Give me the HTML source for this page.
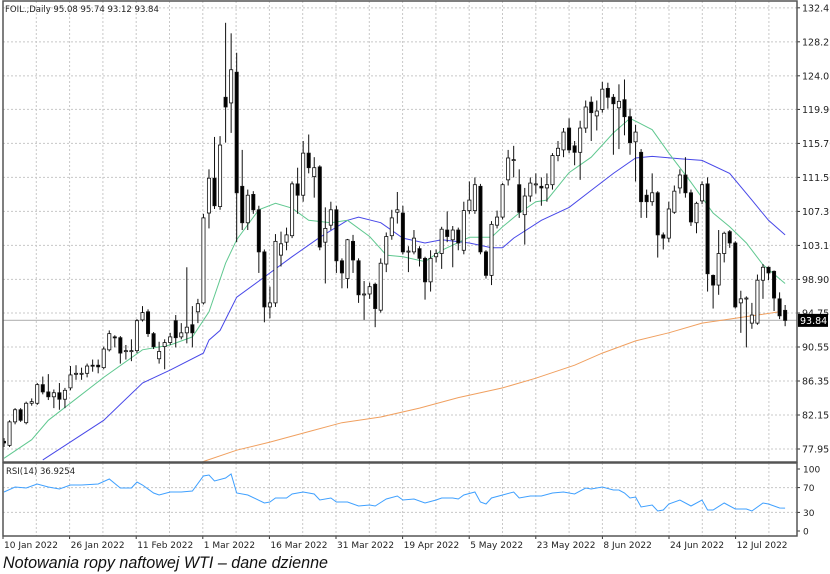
<!DOCTYPE html>
<html><head><meta charset="utf-8"><style>
html,body{margin:0;padding:0;background:#fff;width:830px;height:574px;overflow:hidden}
svg{display:block}
text{font-family:"DejaVu Sans","Liberation Sans",sans-serif}
</style></head><body>
<svg id="chart" width="830" height="574" viewBox="0 0 830 574" xmlns="http://www.w3.org/2000/svg">
<defs><clipPath id="mainClip"><rect x="3" y="1" width="794" height="461"/></clipPath>
<clipPath id="rsiClip"><rect x="3" y="463" width="794" height="73"/></clipPath></defs>
<g id="grid"></g>
<g id="ma" clip-path="url(#mainClip)"></g>
<g id="candles" clip-path="url(#mainClip)"></g>
<g id="rsi" clip-path="url(#rsiClip)"></g>
<g id="axes"></g>
<text x="5" y="12" font-size="8.5" fill="#222">FOIL.,Daily  95.08 95.74 93.12 93.84</text>
<text x="6" y="474" font-size="8.5" fill="#222">RSI(14) 36.9254</text>
<text x="3" y="568" font-size="16.5" font-style="italic" fill="#111" textLength="325" lengthAdjust="spacingAndGlyphs" style="font-family:'Liberation Sans',sans-serif">Notowania ropy naftowej WTI – dane dzienne</text>
</svg>
<script>
const opens=[78.9,78.4,81.3,82.8,81.2,83.6,83.6,85.9,85.0,84.4,84.9,84.1,85.5,87.2,87.2,87.3,88.3,88.3,88.0,90.2,91.8,91.7,90.1,90.1,90.1,93.9,94.9,92.2,89.1,90.6,91.1,93.8,91.8,92.3,93.3,94.9,96.0,107.1,111.4,107.9,121.4,120.7,124.5,110.4,105.9,109.4,107.5,102.3,95.5,96.0,101.9,103.5,104.3,110.7,109.3,114.5,111.6,112.8,103.5,105.6,107.5,101.2,99.0,103.6,101.2,97.1,97.1,98.3,95.1,100.8,104.3,107.2,107.1,102.3,102.3,102.7,101.5,98.6,101.7,102.1,105.0,103.8,105.0,102.5,107.4,107.4,110.4,102.3,99.4,105.6,106.6,111.2,113.7,110.6,106.9,109.2,110.7,110.4,110.2,110.6,114.2,114.9,117.6,115.4,114.6,117.6,120.8,119.1,119.9,122.5,121.4,120.1,121.1,119.0,115.9,114.6,109.3,108.5,109.6,104.4,104.0,107.2,110.2,111.8,109.6,105.9,108.6,110.7,99.4,98.2,102.1,104.8,103.4,96.0,96.5,93.5,93.5,98.8,100.4,99.9,96.5,95.08];
const closes=[78.7,81.3,82.8,81.5,83.6,83.8,85.9,85.0,84.4,84.9,84.1,85.2,87.1,87.3,87.3,88.2,88.2,88.1,90.3,92.2,91.7,89.8,90.1,90.1,93.8,94.8,92.2,90.6,90.0,91.1,91.8,91.7,92.3,93.0,92.3,95.9,106.5,111.4,108.0,115.5,120.2,124.8,109.6,105.9,109.3,107.5,102.3,95.5,96.0,103.6,103.3,104.4,110.7,109.3,114.5,112.7,112.7,102.9,105.2,107.5,101.2,99.7,103.8,101.3,97.0,97.1,98.0,95.3,100.9,104.2,106.5,107.5,102.3,102.4,104.0,101.5,98.6,101.5,102.1,105.1,104.2,105.0,103.4,107.4,108.7,110.6,102.3,99.4,105.7,106.6,110.6,113.9,113.7,107.2,109.2,110.8,110.7,110.2,110.6,114.2,115.1,117.1,114.9,114.6,117.6,120.2,119.5,119.7,122.4,121.4,120.6,120.9,119.0,115.8,117.1,108.5,108.5,109.6,104.4,104.0,107.6,109.8,111.8,109.6,106.0,108.3,110.6,99.6,98.2,102.1,104.6,103.4,95.5,96.5,96.6,94.5,98.8,100.4,99.7,96.6,94.4,93.84];
const highs=[79.3,81.5,83.0,83.0,83.8,84.2,86.1,86.9,87.2,85.3,86.1,85.5,88.2,88.3,88.0,88.5,89.0,89.0,90.6,92.6,92.0,91.9,90.8,91.5,94.0,95.6,95.2,92.4,91.2,91.5,92.3,94.5,93.5,100.4,95.6,96.5,107.0,112.5,116.5,116.6,130.6,129.3,126.9,114.9,110.0,109.8,108.0,102.6,98.0,104.5,104.8,105.3,111.0,112.7,116.0,116.8,114.0,113.0,107.8,108.5,108.0,101.5,103.9,104.4,101.5,98.7,98.5,98.5,101.5,104.7,107.5,109.7,108.0,103.0,105.0,103.0,101.7,102.5,102.6,105.4,107.3,105.5,105.3,108.5,111.0,111.5,110.7,102.5,106.1,107.4,110.8,114.9,115.4,112.5,110.2,111.5,112.0,111.5,112.0,114.5,116.0,117.6,118.8,116.0,118.5,121.0,121.5,121.0,123.3,123.2,121.8,123.0,123.6,120.0,118.0,115.0,110.0,112.0,109.8,104.7,108.5,110.5,112.5,114.0,110.0,108.5,111.0,111.5,99.5,105.0,104.8,105.0,103.6,97.5,96.8,96.0,99.5,100.8,100.5,100.0,97.3,95.74];
const lows=[78.2,78.2,81.0,81.3,81.0,83.3,83.4,84.7,84.0,83.0,82.8,83.0,85.2,86.5,86.5,86.8,87.5,87.3,87.8,90.0,90.5,88.5,89.0,88.8,89.8,93.7,91.8,90.3,88.5,87.8,90.8,90.5,91.5,91.0,90.5,93.5,95.8,105.2,107.6,107.5,115.8,117.0,103.5,105.0,105.0,107.0,99.7,93.6,94.1,95.5,100.5,102.5,104.0,107.0,108.5,112.0,109.0,102.5,98.4,105.0,99.7,97.8,97.8,99.7,96.0,93.9,96.5,93.0,94.8,99.8,103.8,105.8,102.0,99.8,102.0,100.5,96.4,97.4,101.0,100.2,103.5,100.4,102.5,102.0,107.0,107.0,102.0,99.0,98.2,105.2,106.3,110.5,111.5,106.5,103.2,108.5,109.5,108.0,108.5,110.0,113.5,114.0,114.5,113.0,111.2,117.0,116.0,117.3,119.5,120.0,114.3,115.0,116.7,114.3,111.0,106.5,106.5,108.0,101.6,102.6,103.5,107.0,109.5,109.0,105.5,104.6,108.2,97.4,95.3,97.0,101.0,102.8,95.3,92.3,90.5,92.8,93.3,96.5,98.8,95.0,94.0,93.12];
const ma20Days=[0,5,8,18,25,30,34,37,40,42,46,49,52,55,59,62,66,69,72,76,79,84,88,90,93,96,98,102,106,110,113,117,120,124,128,131,134,137,141];
const ma20Values=[76.8,79.1,81.5,86.8,90.2,90.8,91.8,94.9,100.9,103.8,107.5,108.3,107.7,106.2,105.9,106.2,104.2,101.9,101.7,101.1,102.5,104.1,104.1,105.4,107.1,108.5,108.7,112.1,114.0,117.0,118.8,117.4,114.5,110.9,107.1,105.4,103.4,100.7,98.4];
const ma50Days=[7,18,25,30,36,37,39,42,47,52,57,62,64,68,72,76,79,84,88,90,92,97,102,106,110,114,117,122,126,131,135,138,141];
const ma50Values=[76.6,81.5,86.1,87.7,89.8,91.4,92.6,96.7,99.2,101.7,104.1,106.2,106.6,105.9,104.0,103.4,103.8,103.4,102.8,102.8,104.0,106.2,107.8,109.9,112.0,113.9,114.1,113.8,113.6,112.0,108.7,106.2,104.4];
const ma200Days=[36,42,48,55,61,68,75,82,90,96,103,108,114,120,126,132,136,140];
const ma200Values=[76.4,77.8,78.8,80.1,81.2,81.9,83.0,84.3,85.5,86.7,88.3,89.8,91.3,92.3,93.5,94.1,94.5,94.9];
const rsiDays=[0,2,4,6,8,10,12,14,17,19,21,23,24,25,27,28,30,32,34,36,37,38,40,41,42,44,47,48,49,51,52,54,56,57,59,60,62,64,66,67,69,71,72,74,76,78,79,81,82,83,85,86,87,88,90,92,93,95,97,99,101,103,105,106,108,110,111,112,113,114,115,117,118,119,120,122,124,126,127,128,130,132,134,135,137,138,140,141];
const rsiValues=[62.9,71,69.4,75.8,71,67.7,74.2,74.2,75.8,83.9,69.4,69.4,79,74.2,61.3,58,62.9,62.9,64.5,88.7,90.3,80.6,85.5,91.9,61.3,58,45.2,46.8,53.2,53.2,59.7,62.9,59.7,50,53.2,46.8,46.8,40.3,41.9,40.3,51.6,56.5,50,51.6,45.2,50,53.2,53.2,51.6,58,62.9,46.8,43.5,53.2,58,62.9,53.2,56.5,56.5,61.3,62.9,59.7,69.4,67.7,71,66.1,66.1,61.3,53.2,54.8,38.7,41.9,32.3,33.9,43.5,50,40.3,50,33.9,33.9,45.2,35.5,35.5,32.3,45.2,43.5,37.1,36.9];
const priceTicks=["132.45","128.25","124.05","119.90","115.70","111.50","107.30","103.10","98.90","94.75","90.55","86.35","82.15","77.95"];
const rsiTicks=[100,70,30,0];
const dateLabels=["10 Jan 2022","26 Jan 2022","11 Feb 2022","1 Mar 2022","16 Mar 2022","31 Mar 2022","19 Apr 2022","5 May 2022","23 May 2022","8 Jun 2022","24 Jun 2022","12 Jul 2022"];
const lastPrice=93.84;

const NS="http://www.w3.org/2000/svg";
const X0=4, STEP=5.54, LEFT=3, RIGHT=797, MTOP=1, MBOT=462, RTOP=463, RBOT=536;
const xScale=i=>X0+i*STEP;
const yScale=p=>449-(p-77.95)*8.095;
const rsiY=v=>531-v*0.62;
function mk(tag,attrs,parent){const e=document.createElementNS(NS,tag);for(const k in attrs)e.setAttribute(k,attrs[k]);parent.appendChild(e);return e;}
const grid=document.getElementById('grid'),axes=document.getElementById('axes');
// vertical grid
for(let k=1;k*33.3+LEFT<RIGHT;k++){const x=LEFT+k*33.3;
 let l=mk('line',{x1:x,x2:x,y1:MTOP,y2:MBOT,stroke:'#c8c8c8','stroke-dasharray':'2,2'},grid);
 
 
 let l2=mk('line',{x1:x,x2:x,y1:RTOP,y2:RBOT,stroke:'#c8c8c8','stroke-dasharray':'2,2'},grid);
 
 }
// price ticks
priceTicks.forEach(t=>{const y=yScale(parseFloat(t));
 let g=mk('line',{x1:LEFT,x2:RIGHT,y1:y,y2:y,stroke:'#c8c8c8','stroke-dasharray':'2,2'},grid);
 
 
 mk('line',{x1:RIGHT,x2:RIGHT+3,y1:y,y2:y,stroke:'#333'},axes);
 let tx=mk('text',{x:802,y:y+3.5,'font-size':'9.5',fill:'#222'},axes);tx.textContent=t;
 
 });
// rsi ticks
rsiTicks.forEach(v=>{const y=rsiY(v);
 if(v===70||v===30){let g=mk('line',{x1:LEFT,x2:RIGHT,y1:y,y2:y,stroke:'#c8c8c8','stroke-dasharray':'2,2'},grid);
 
 }
 mk('line',{x1:RIGHT,x2:RIGHT+3,y1:y,y2:y,stroke:'#333'},axes);
 let tx=mk('text',{x:803,y:y+3.5,'font-size':'9',fill:'#222'},axes);tx.textContent=v;
 
 });
// date labels
dateLabels.forEach((d,k)=>{const x=LEFT+k*66.6;
 mk('line',{x1:x,x2:x,y1:RBOT,y2:RBOT+3,stroke:'#333'},axes);
 let tx=mk('text',{x:x+1,y:548,'font-size':'9',fill:'#222'},axes);tx.textContent=d;
 
 });
// last price line
const ly=yScale(lastPrice);
let pl=mk('line',{x1:LEFT,x2:RIGHT,y1:ly,y2:ly,stroke:'#bdbdbd','stroke-width':1.2},grid);


// MAs
const maG=document.getElementById('ma');
function line(days,vals,color,name){const pts=days.map((d,i)=>xScale(d).toFixed(1)+','+yScale(vals[i]).toFixed(1)).join(' ');
 let p=mk('polyline',{points:pts,fill:'none',stroke:color,'stroke-width':1},maG);
 
 }
line(ma200Days,ma200Values,'#f0a060','ma200-line');
line(ma50Days,ma50Values,'#4848e8','ma50-line');
line(ma20Days,ma20Values,'#60c890','ma20-line');
// candles
const cg=document.getElementById('candles');
closes.forEach((c,i)=>{const o=opens[i],x=xScale(i);
 let w=mk('line',{x1:x,x2:x,y1:yScale(highs[i]),y2:yScale(lows[i]),stroke:'#111','stroke-width':1},cg);
 
 
 const top=yScale(Math.max(o,c)),bot=yScale(Math.min(o,c));
 let b=mk('rect',{x:x-1.6,y:top,width:3.2,height:Math.max(1,bot-top),fill:c<o?'#000':'#fff',stroke:'#111','stroke-width':0.8},cg);
 
 });
// RSI
const rg=document.getElementById('rsi');
let rp=mk('polyline',{points:rsiDays.map((d,i)=>xScale(d).toFixed(1)+','+rsiY(rsiValues[i]).toFixed(1)).join(' '),fill:'none',stroke:'#3fa0ff','stroke-width':1},rg);


// frames
let f1=mk('rect',{x:LEFT,y:MTOP,width:RIGHT-LEFT,height:MBOT-MTOP,fill:'none',stroke:'#555','stroke-width':1.5},axes);


let f2=mk('rect',{x:LEFT,y:RTOP,width:RIGHT-LEFT,height:RBOT-RTOP,fill:'none',stroke:'#555','stroke-width':1.5},axes);


// last price badge
let bd=mk('rect',{x:798,y:ly-6.5,width:30,height:13,fill:'#000'},axes);


let bt=mk('text',{x:800,y:ly+3.5,'font-size':'9.5',fill:'#fff'},axes);bt.textContent=lastPrice.toFixed(2);


</script>
</body></html>
